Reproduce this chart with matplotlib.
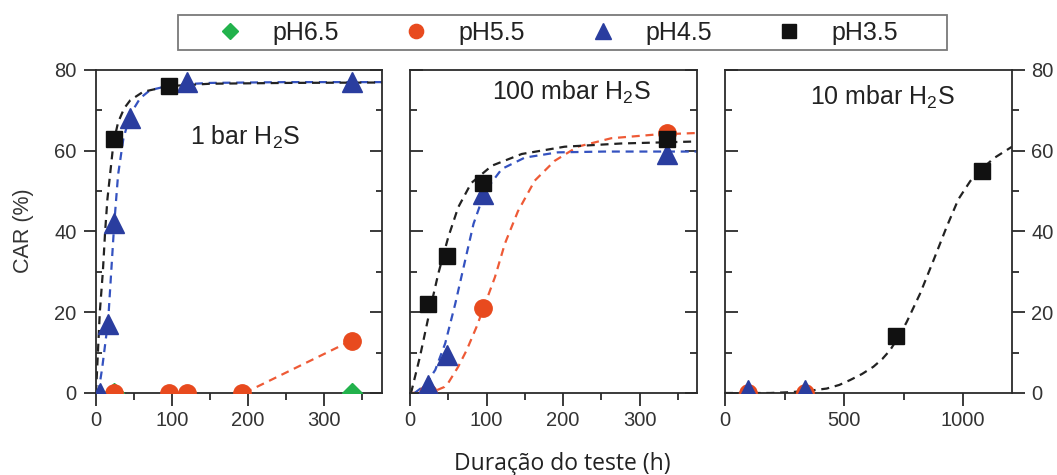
import matplotlib
matplotlib.use("Agg")
import matplotlib.pyplot as plt
from matplotlib.lines import Line2D
from matplotlib.patches import Rectangle
from matplotlib.ticker import MultipleLocator

plt.rcParams["font.family"] = ["Liberation Sans", "DejaVu Sans"]
plt.rcParams["mathtext.fontset"] = "custom"
plt.rcParams["mathtext.rm"] = "Liberation Sans"
plt.rcParams["mathtext.it"] = "Liberation Sans:italic"

# ---------------------------------------------------------
# Measured CAR (%) vs test duration (h)
# ---------------------------------------------------------
labels = ["pH6.5", "pH5.5", "pH4.5", "pH3.5"]

# 1 bar H2S
t1_ph65 = [24, 336]
car1_ph65 = [0, 0]
t1_ph55 = [24, 96, 120, 192, 336]
car1_ph55 = [0, 0, 0, 0, 13]
t1_ph45 = [5, 16, 24, 45, 120, 336]
car1_ph45 = [0, 17, 42, 68, 77, 77]
t1_ph35 = [24, 96]
car1_ph35 = [63, 76]

# 100 mbar H2S
t2_ph55 = [24, 96, 336]
car2_ph55 = [0, 21, 64.4]
t2_ph45 = [24, 48, 96, 336]
car2_ph45 = [2, 9.4, 49.4, 59.3]
t2_ph35 = [24, 48, 96, 336]
car2_ph35 = [22, 34, 52, 63]

# 10 mbar H2S
t3_ph55 = [96, 336]
car3_ph55 = [0, 0]
t3_ph45 = [96, 336]
car3_ph45 = [0.8, 0.8]
t3_ph35 = [720, 1080]
car3_ph35 = [14, 55]

# ---------------------------------------------------------
# Fitted trend curves (sampled along the dashed lines)
# ---------------------------------------------------------
fit1_ph55_t = [195, 336]
fit1_ph55_y = [0, 13]
fit1_ph45_t = [3, 8, 12, 16, 20, 24, 29, 36, 45, 58, 71, 100, 150, 250, 376]
fit1_ph45_y = [0, 6, 12, 18, 30, 42, 54, 63, 69, 73, 75, 76.3, 76.8, 77, 77]
fit1_ph35_t = [0, 2, 5, 9, 12, 15, 19, 23, 29, 37, 45, 62, 95, 150, 250, 376]
fit1_ph35_y = [0, 8, 20, 30, 40, 48, 55, 62, 67, 70.5, 72.5, 74.6, 76, 76.6, 76.8, 76.9]

fit2_ph55_t = [0, 30, 45, 50, 63, 74, 87, 96, 111, 124, 141, 163, 189, 219, 263, 320, 375]
fit2_ph55_y = [0, 0.3, 1.5, 2.5, 6.5, 10.6, 16.4, 21, 28.7, 37, 45, 52.6, 57.5, 61, 63.1, 64, 64.4]
fit2_ph45_t = [6, 20, 33, 46, 59, 72, 83, 98, 120, 150, 193, 254, 375]
fit2_ph45_y = [0, 2, 5.7, 12.3, 22, 32.8, 41.9, 50, 55.5, 58.3, 59.6, 59.8, 59.8]
fit2_ph35_t = [0, 2, 13, 26, 37, 50, 63, 80, 107, 146, 202, 276, 375]
fit2_ph35_y = [0, 0.5, 9, 20.5, 29.6, 38.6, 46, 52, 56.3, 59.2, 61, 61.8, 62.3]

fit3_ph35_t = [0, 100, 190, 273, 360, 427, 480, 525, 575, 623, 660, 693, 730, 763, 819, 875,
               931, 980, 1030, 1080, 1130, 1205]
fit3_ph35_y = [0, 0, 0, 0.2, 0.6, 1.1, 2.0, 3.2, 4.7, 6.5, 8.4, 10.6, 14, 17.6, 24.6, 32.8,
               41.2, 48, 52.5, 55.6, 58.2, 61]

# ---------------------------------------------------------
# Styles
# ---------------------------------------------------------
mk = {
    "pH6.5": dict(marker="D", color="#22b24c", ms=10),
    "pH5.5": dict(marker="o", color="#e84a1e", ms=12.5),
    "pH4.5": dict(marker="^", color="#2a3d9f", ms=14),
    "pH3.5": dict(marker="s", color="#111111", ms=11.5),
}
fit_color = {"pH5.5": "#ee5a36", "pH4.5": "#3452c0", "pH3.5": "#222222"}
dash = (0, (3.6, 2.6))
spine_col = "#2b2b2b"
text_col = "#333333"
tick_fs = 14.5

W, H = 1057, 475
fig = plt.figure(figsize=(W / 100, H / 100), dpi=100)


def frac(x0, y_top, w, h):
    return [x0 / W, 1 - (y_top + h) / H, w / W, h / H]


ax1 = fig.add_axes(frac(96, 70, 286, 323))
ax2 = fig.add_axes(frac(410, 70, 287, 323))
ax3 = fig.add_axes(frac(725, 70, 287, 323))


def points(ax, t, y, key):
    s = mk[key]
    ax.plot(t, y, linestyle="none", marker=s["marker"], ms=s["ms"],
            color=s["color"], markeredgecolor=s["color"], zorder=3)


def fit(ax, t, y, key):
    ax.plot(t, y, linestyle=dash, lw=1.6, color=fit_color[key], zorder=2)


# panel 1
fit(ax1, fit1_ph55_t, fit1_ph55_y, "pH5.5")
fit(ax1, fit1_ph45_t, fit1_ph45_y, "pH4.5")
fit(ax1, fit1_ph35_t, fit1_ph35_y, "pH3.5")
points(ax1, t1_ph65, car1_ph65, "pH6.5")
points(ax1, t1_ph55, car1_ph55, "pH5.5")
points(ax1, t1_ph45, car1_ph45, "pH4.5")
points(ax1, t1_ph35, car1_ph35, "pH3.5")

# panel 2
fit(ax2, fit2_ph55_t, fit2_ph55_y, "pH5.5")
fit(ax2, fit2_ph45_t, fit2_ph45_y, "pH4.5")
fit(ax2, fit2_ph35_t, fit2_ph35_y, "pH3.5")
points(ax2, t2_ph55, car2_ph55, "pH5.5")
points(ax2, t2_ph45, car2_ph45, "pH4.5")
points(ax2, t2_ph35, car2_ph35, "pH3.5")

# panel 3
fit(ax3, fit3_ph35_t, fit3_ph35_y, "pH3.5")
points(ax3, t3_ph55, car3_ph55, "pH5.5")
points(ax3, t3_ph45, car3_ph45, "pH4.5")
points(ax3, t3_ph35, car3_ph35, "pH3.5")

ax1.set_xlim(0, 376)
ax2.set_xlim(0, 375)
ax3.set_xlim(0, 1205)

for ax in (ax1, ax2, ax3):
    ax.set_ylim(0, 80)
    ax.yaxis.set_major_locator(MultipleLocator(20))
    ax.yaxis.set_minor_locator(MultipleLocator(10))
    for sp in ax.spines.values():
        sp.set_linewidth(1.3)
        sp.set_color(spine_col)
    ax.tick_params(axis="x", which="major", direction="out", length=9, width=1.3,
                   color=spine_col, labelsize=tick_fs, labelcolor=text_col, pad=4)
    ax.tick_params(axis="x", which="minor", direction="out", length=5, width=1.3,
                   color=spine_col)
    ax.tick_params(axis="y", which="both", width=1.3, color=spine_col,
                   labelsize=tick_fs, labelcolor=text_col)

for ax in (ax1, ax2):
    ax.xaxis.set_major_locator(MultipleLocator(100))
    ax.xaxis.set_minor_locator(MultipleLocator(50))
ax3.xaxis.set_major_locator(MultipleLocator(500))
ax3.xaxis.set_minor_locator(MultipleLocator(250))


def right_ticks(ax, direction, labels_on):
    # a twin y axis carries the right-hand ticks so they can point the other way
    tw = ax.twinx()
    tw.set_ylim(ax.get_ylim())
    tw.yaxis.set_major_locator(MultipleLocator(20))
    tw.yaxis.set_minor_locator(MultipleLocator(10))
    tw.tick_params(axis="y", which="major", direction=direction, length=9, width=1.3,
                   color=spine_col, labelright=labels_on, labelsize=tick_fs,
                   labelcolor=text_col, pad=5)
    tw.tick_params(axis="y", which="minor", direction=direction,
                   length=4 if direction == "in" else 5, width=1.3, color=spine_col)
    for sp in tw.spines.values():
        sp.set_visible(False)
    return tw


# panel 1: labels and outward ticks on the left, inward ticks on the right
ax1.tick_params(axis="y", which="major", direction="out", length=9, pad=5)
ax1.tick_params(axis="y", which="minor", direction="in", length=4)
right_ticks(ax1, "in", False)

# panel 2: inward ticks on both sides, no labels
ax2.tick_params(axis="y", which="both", direction="in", left=True, right=True, labelleft=False)
ax2.tick_params(axis="y", which="major", length=9)
ax2.tick_params(axis="y", which="minor", length=5)

# panel 3: inward on the left, outward with labels on the right
ax3.tick_params(axis="y", which="both", direction="in", labelleft=False)
ax3.tick_params(axis="y", which="major", length=9)
ax3.tick_params(axis="y", which="minor", length=5)
right_ticks(ax3, "out", True)

# panel titles
panel_fs = 18
ax1.text(0.329, 0.768, "1 bar H$_2$S", transform=ax1.transAxes, fontsize=panel_fs,
         color="#222222", ha="left", va="baseline")
ax2.text(0.286, 0.907, "100 mbar H$_2$S", transform=ax2.transAxes, fontsize=panel_fs,
         color="#222222", ha="left", va="baseline")
ax3.text(0.296, 0.892, "10 mbar H$_2$S", transform=ax3.transAxes, fontsize=panel_fs,
         color="#222222", ha="left", va="baseline")

# axis labels
fig.text(24 / W, 1 - 231 / H, "CAR (%)", rotation=90, fontsize=15.5, color=text_col,
         ha="center", va="center")
fig.text(562 / W, 1 - 470 / H, "Duração do teste (h)", fontsize=16.5, color="#222222",
         family=["Open Sans", "DejaVu Sans"], ha="center", va="baseline")

# legend across the top, with its own frame
handles = [Line2D([], [], linestyle="none", marker=mk[k]["marker"], color=mk[k]["color"],
                  ms=mk[k]["ms"]) for k in labels]
fig.legend(handles, labels, ncol=4, frameon=False, loc="center left",
           bbox_to_anchor=(217 / W, 1 - 33 / H), borderaxespad=0, borderpad=0,
           handlelength=1.0, handletextpad=1.2, columnspacing=2.6, markerscale=0.82,
           prop={"size": 18}, labelcolor="#222222")
fig.patches.append(Rectangle((178 / W, 1 - 50 / H), 769 / W, 35 / H, transform=fig.transFigure,
                             fill=False, edgecolor="#7a7a7a", linewidth=1.3))

fig.savefig("out.png", dpi=100)
